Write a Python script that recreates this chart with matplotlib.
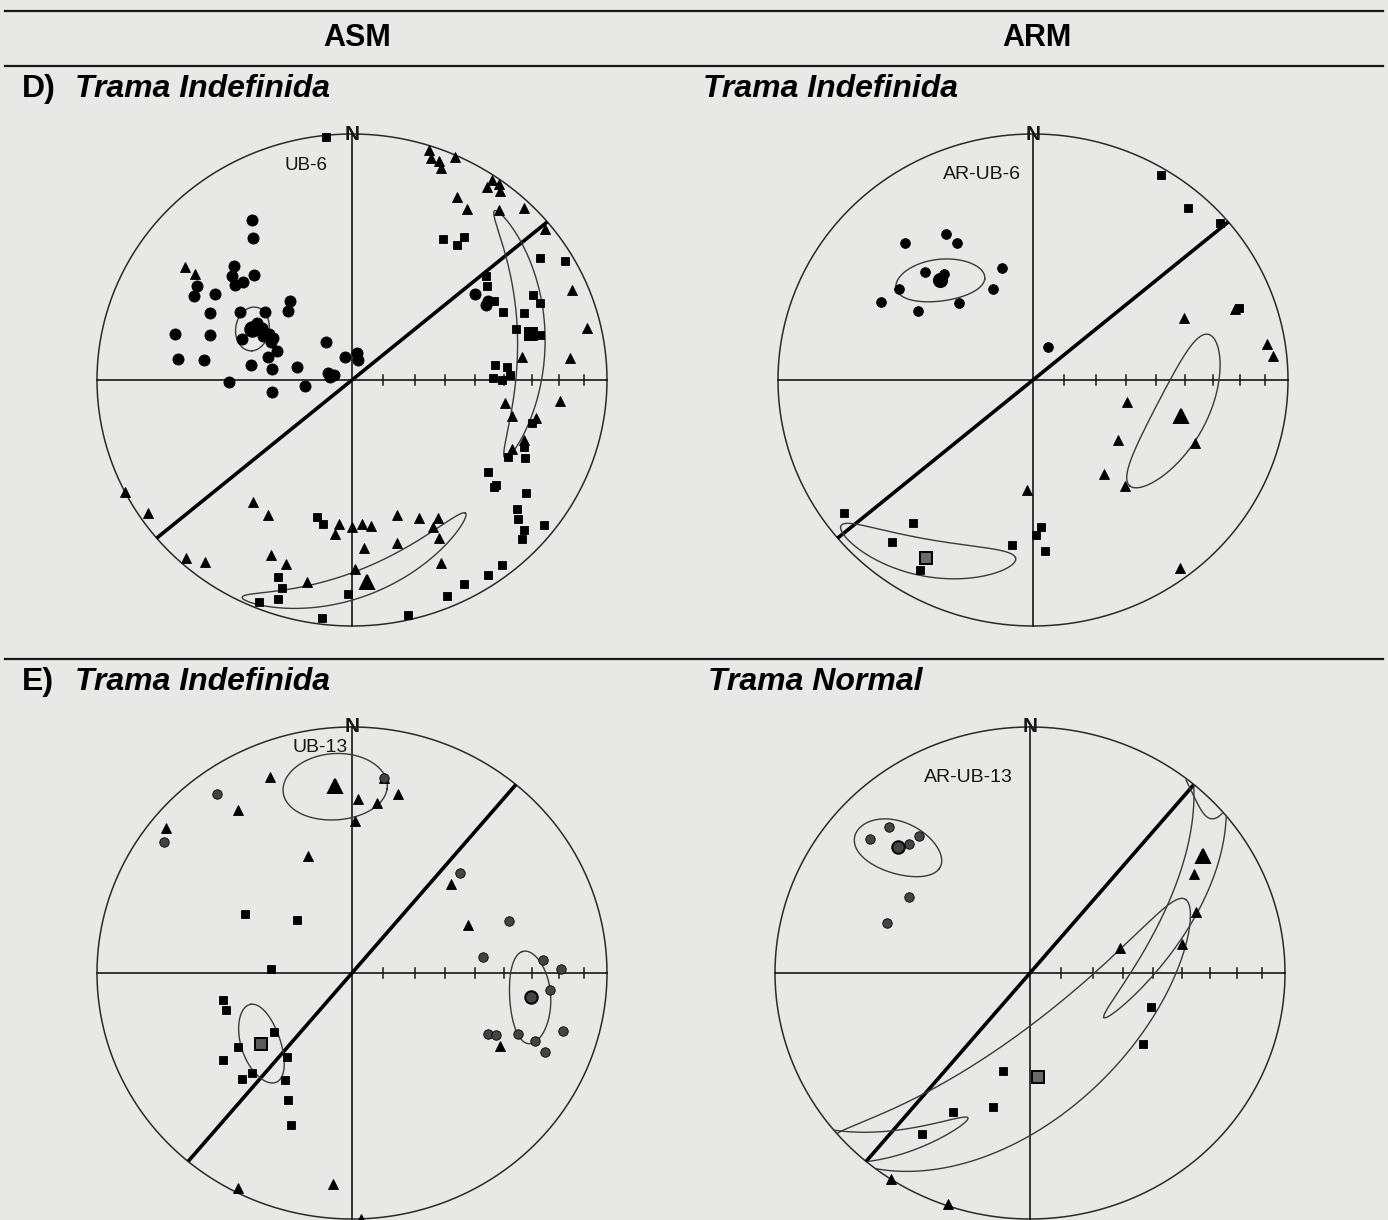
import numpy as np
import matplotlib
matplotlib.use("Agg")
import matplotlib.pyplot as plt
from matplotlib.lines import Line2D

plt.rcParams['font.family'] = ['Liberation Sans', 'DejaVu Sans']

W, H = 1388, 1220
PAPER = '#e8e8e6'
INK = '#161616'

# directions: declination / inclination in degrees, lower hemisphere
# K1 = squares, K2 = triangles, K3 = circles

# D) ASM, UB-6
ub6_k1_dec = [354, 32, 37, 37, 56, 60, 51, 54, 60, 65, 64, 67, 68, 72, 76, 84, 85, 89, 90, 88,
              104, 112, 117, 115, 125, 127, 128, 124, 129, 131, 132, 134, 128, 142, 146, 152,
              157, 167, 187, 194, 191, 200, 198, 198, 202, 181]
ub6_k1_inc = [1, 33, 32, 28, 12, 4, 33, 35, 36, 35, 22, 21, 28, 33, 25, 43, 39, 44, 41, 38,
              28, 28, 32, 26, 35, 30, 30, 19, 18, 15, 10, 8, 5, 5, 5, 7,
              5, 2, 3, 42, 40, 16, 12, 7, 3, 14]
ub6_k2_dec = [18, 19, 21, 24, 22, 34, 34, 36, 37, 29, 33, 40, 44, 51, 67, 77, 84, 82, 96, 99,
              103, 102, 110, 114, 305, 305, 243, 236, 218, 211, 162, 155, 149, 152, 152, 155,
              165, 185, 186, 180, 176, 173, 176, 204, 199, 192, 179, 222, 218]
ub6_k2_inc = [2, 5, 5, 1, 8, 2, 6, 2, 4, 16, 18, 11, 3, 3, 7, 6, 15, 33, 19, 39,
              36, 27, 29, 32, 21, 26, 0, 4, 37, 36, 42, 38, 35, 33, 28, 19,
              32, 41, 37, 40, 41, 40, 32, 23, 22, 17, 24, 3, 7]
ub6_k3_dec = [329, 326, 315, 318, 312, 313, 310, 302, 299, 303, 323, 318, 296, 302, 309, 285,
              288, 298, 301, 300, 299, 291, 297, 296, 292, 286, 278, 279, 302, 277, 278, 284,
              327, 344, 11, 17, 288, 287, 278, 269, 261, 262, 54, 59, 60]
ub6_k3_inc = [25, 31, 35, 42, 37, 41, 40, 29, 30, 36, 57, 59, 38, 47, 54, 29,
              41, 54, 56, 59, 61, 52, 58, 61, 64, 62, 64, 57, 54, 32, 41, 72,
              75, 82, 81, 83, 82, 84, 83, 50, 64, 75, 40, 38, 39]
ub6_mean_dec = [75, 176, 298]
ub6_mean_inc = [28, 19, 53.5]
ub6_cone_a = [37, 34, 7]
ub6_cone_b = [5, 5, 5.5]
ub6_cone_beta = [72, -63, -62]

# D) ARM, AR-UB-6
ar6_k1_dec = [31, 41, 49, 70, 234, 219, 220, 210, 187, 177, 179, 176]
ar6_k1_inc = [3, 8, 3, 15, 9, 26, 15, 12, 33, 40, 37, 31]
ar6_k2_dec = [67, 70, 81, 84, 104, 126, 112, 144, 140, 183, 143]
ar6_k2_inc = [36, 17, 8, 6, 59, 56, 32, 51, 43, 53, 5]
ar6_k3_dec = [330, 318, 332, 345, 316, 321, 305, 337, 298, 302, 317, 24, 319]
ar6_k3_inc = [32, 26, 37, 51, 39, 44, 36, 57, 33, 46, 55, 78, 45]
ar6_mean_dec = [210, 104, 318]
ar6_mean_inc = [17.5, 40, 44.5]
ar6_cone_a = [25, 26, 14]
ar6_cone_b = [7, 9, 7]
ar6_cone_beta = [-60, 74, 48]

# E) ASM, UB-13
ub13_k1_dec = [300, 315, 273, 258, 253, 232, 236, 235, 217, 224, 225, 211, 206, 201]
ub13_k1_inc = [50, 65, 64, 47, 47, 58, 45, 38, 55, 43, 39, 48, 42, 34]
ub13_k2_dec = [338, 9, 2, 8, 14, 1, 326, 309, 340, 47, 67, 117, 207, 185, 178]
ub13_k2_inc = [15, 21, 30, 31, 26, 38, 21, 7, 48, 46, 49, 35, 2, 15, 0]
ub13_k3_dec = [324, 306, 9, 46, 71, 83, 86, 89, 95, 106, 111, 111, 115, 114, 113]
ub13_k3_inc = [11, 10, 21, 41, 35, 47, 26, 19, 23, 15, 31, 24, 41, 38, 19]
ub13_mean_dec = [231, 355, 98]
ub13_mean_inc = [52, 24.5, 30]
ub13_cone_a = [13, 14, 13.5]
ub13_cone_b = [6.5, 13, 7.4]
ub13_cone_beta = [65, 85, -72.5]

# E) ARM, AR-UB-13
ar13_k1_dec = [106, 123, 195, 195, 208, 213]
ar13_k1_inc = [49, 46, 56, 43, 36, 23]
ar13_k2_dec = [58, 69, 74, 79, 213, 199]
ar13_k2_inc = [25, 31, 60, 39, 0, 1]
ar13_k3_dec = [317, 311, 322, 318, 303, 290]
ar13_k3_inc = [20, 18, 30, 30, 43, 40]
ar13_mean_dec = [176, 55, 314.5]
ar13_mean_inc = [55, 18.5, 28]
ar13_cone_a = [75, 63, 16.5]
ar13_cone_b = [15, 5, 7.5]
ar13_cone_beta = [-54, 29, 14]


def unit(dec, inc):
    d = np.radians(np.asarray(dec, float))
    i = np.radians(np.asarray(inc, float))
    return np.column_stack([np.cos(i) * np.sin(d), np.cos(i) * np.cos(d), np.sin(i)])


def to_xy(v):
    # equal-area (Schmidt) projection, lower hemisphere
    v = np.array(v, float).reshape(-1, 3)
    v[v[:, 2] < 0] *= -1
    s = np.sqrt(1 + v[:, 2])
    return v[:, 0] / s, v[:, 1] / s


def great_circle(strike, dip, n=200):
    s = np.radians(strike)
    dd = np.radians(dip)
    sv = np.array([np.sin(s), np.cos(s), 0.0])
    dv = np.array([np.cos(dd) * np.sin(s + np.pi / 2), np.cos(dd) * np.cos(s + np.pi / 2), np.sin(dd)])
    t = np.linspace(0, np.pi, n)
    return to_xy(np.outer(np.cos(t), sv) + np.outer(np.sin(t), dv))


def cone(dec, inc, a, b, beta, n=900):
    # confidence ellipse: semi-angles a, b; major axis turned beta from the dip direction
    d, i = np.radians(dec), np.radians(inc)
    m = np.array([np.cos(i) * np.sin(d), np.cos(i) * np.cos(d), np.sin(i)])
    e_inc = np.array([-np.sin(i) * np.sin(d), -np.sin(i) * np.cos(d), np.cos(i)])
    e_dec = np.array([np.cos(d), -np.sin(d), 0.0])
    bt = np.radians(beta)
    major = np.cos(bt) * e_inc + np.sin(bt) * e_dec
    minor = -np.sin(bt) * e_inc + np.cos(bt) * e_dec
    t = np.linspace(0, 2 * np.pi, n)
    A, B = np.radians(a), np.radians(b)
    th = A * B / np.sqrt((B * np.cos(t)) ** 2 + (A * np.sin(t)) ** 2)
    v = (np.outer(np.cos(th), m) + np.outer(np.sin(th) * np.cos(t), major)
         + np.outer(np.sin(th) * np.sin(t), minor))
    x, y = to_xy(v)
    cut = np.where(np.hypot(np.diff(x), np.diff(y)) > 0.3)[0] + 1
    return list(zip(np.split(x, cut), np.split(y, cut)))


fig = plt.figure(figsize=(W / 100, H / 100), dpi=100, facecolor=PAPER)

# header rules and titles
for y in (11, 66, 659):
    fig.add_artist(Line2D([5 / W, 1383 / W], [1 - y / H] * 2, color=INK, lw=1.6))
fig.text(357 / W, 1 - 46 / H, 'ASM', fontsize=22, weight='bold', ha='center', va='baseline')
fig.text(1037 / W, 1 - 46 / H, 'ARM', fontsize=22, weight='bold', ha='center', va='baseline')
fig.text(22 / W, 1 - 97 / H, 'D)', fontsize=23, weight='bold', va='baseline')
fig.text(75 / W, 1 - 97 / H, 'Trama Indefinida', fontsize=23, weight='bold', style='italic', va='baseline')
fig.text(703 / W, 1 - 97 / H, 'Trama Indefinida', fontsize=23, weight='bold', style='italic', va='baseline')
fig.text(22 / W, 1 - 690 / H, 'E)', fontsize=23, weight='bold', va='baseline')
fig.text(75 / W, 1 - 690 / H, 'Trama Indefinida', fontsize=23, weight='bold', style='italic', va='baseline')
fig.text(708 / W, 1 - 690 / H, 'Trama Normal', fontsize=23, weight='bold', style='italic', va='baseline')

panels = [
    dict(c=(352, 380), name='UB-6', name_xy=(-0.18, 0.87), name_size=13.5, strike=50,
         k1=(ub6_k1_dec, ub6_k1_inc), k2=(ub6_k2_dec, ub6_k2_inc), k3=(ub6_k3_dec, ub6_k3_inc),
         mean=(ub6_mean_dec, ub6_mean_inc), cone=(ub6_cone_a, ub6_cone_b, ub6_cone_beta),
         ms=(6.0, 7.2, 8.0), mean_ms=(9, 10.5, 10.5), dot='black', box='black'),
    dict(c=(1033, 380), name='AR-UB-6', name_xy=(-0.2, 0.835), name_size=14, strike=50,
         k1=(ar6_k1_dec, ar6_k1_inc), k2=(ar6_k2_dec, ar6_k2_inc), k3=(ar6_k3_dec, ar6_k3_inc),
         mean=(ar6_mean_dec, ar6_mean_inc), cone=(ar6_cone_a, ar6_cone_b, ar6_cone_beta),
         ms=(5.4, 6.6, 7.0), mean_ms=(8.5, 10, 9.5), dot='black', box='#6a6a6a'),
    dict(c=(352, 973), name='UB-13', name_xy=(-0.125, 0.915), name_size=14, strike=40,
         k1=(ub13_k1_dec, ub13_k1_inc), k2=(ub13_k2_dec, ub13_k2_inc), k3=(ub13_k3_dec, ub13_k3_inc),
         mean=(ub13_mean_dec, ub13_mean_inc), cone=(ub13_cone_a, ub13_cone_b, ub13_cone_beta),
         ms=(5.4, 6.6, 6.8), mean_ms=(8.5, 10, 9.0), dot='#444444', box='#5a5a5a'),
    dict(c=(1030, 973), name='AR-UB-13', name_xy=(-0.243, 0.793), name_size=14, strike=40,
         k1=(ar13_k1_dec, ar13_k1_inc), k2=(ar13_k2_dec, ar13_k2_inc), k3=(ar13_k3_dec, ar13_k3_inc),
         mean=(ar13_mean_dec, ar13_mean_inc), cone=(ar13_cone_a, ar13_cone_b, ar13_cone_beta),
         ms=(5.4, 6.6, 6.8), mean_ms=(8.5, 10, 9.0), dot='#444444', box='#6a6a6a'),
]

RX, RY = 255, 246
for p in panels:
    cx, cy = p['c']
    ax = fig.add_axes([(cx - RX) / W, (H - cy - RY) / H, 2 * RX / W, 2 * RY / H])
    ax.set_xlim(-1, 1)
    ax.set_ylim(-1, 1)
    ax.axis('off')
    ax.patch.set_visible(False)

    t = np.linspace(0, 2 * np.pi, 600)
    ax.plot(np.cos(t), np.sin(t), color='#2a2a2a', lw=1.1, clip_on=False)
    ax.plot([-1, 1], [0, 0], color=INK, lw=1.2, clip_on=False)
    ax.plot([0, 0], [-1, 1], color=INK, lw=1.2, clip_on=False)
    tx, _ = to_xy(unit(np.full(8, 90.0), np.arange(80, 0, -10)))
    for x in tx:
        ax.plot([x, x], [-0.02, 0.02], color=INK, lw=1.1)

    gx, gy = great_circle(p['strike'], 90)
    ax.plot(gx, gy, color='black', lw=2.6, solid_capstyle='butt', clip_on=False)

    a_list, b_list, beta_list = p['cone']
    for k in range(3):
        for sx, sy in cone(p['mean'][0][k], p['mean'][1][k], a_list[k], b_list[k], beta_list[k]):
            ax.plot(sx, sy, color='#3a3a3a', lw=1.0, clip_on=False, zorder=3)

    styles = [('s', p['box']), ('^', 'black'), ('o', p['dot'])]
    for k, key in enumerate(('k1', 'k2', 'k3')):
        dec, inc = p[key]
        x, y = to_xy(unit(dec, inc))
        mk, face = styles[k]
        ax.plot(x, y, ls='none', marker=mk, ms=p['ms'][k], mfc='black' if k == 0 else face,
                mec='black', mew=0.6, clip_on=False, zorder=4)
        mx, my = to_xy(unit([p['mean'][0][k]], [p['mean'][1][k]]))
        ax.plot(mx, my, ls='none', marker=mk, ms=p['mean_ms'][k], mfc=face, mec='black',
                mew=1.4, clip_on=False, zorder=5)

    ax.text(0, 1.0, 'N', fontsize=15, weight='bold', ha='center', va='center', color=INK, zorder=6)
    ax.text(p['name_xy'][0], p['name_xy'][1], p['name'], fontsize=p['name_size'],
            ha='center', va='center', color=INK, zorder=6)

fig.savefig('out.png', dpi=100, facecolor=PAPER)
